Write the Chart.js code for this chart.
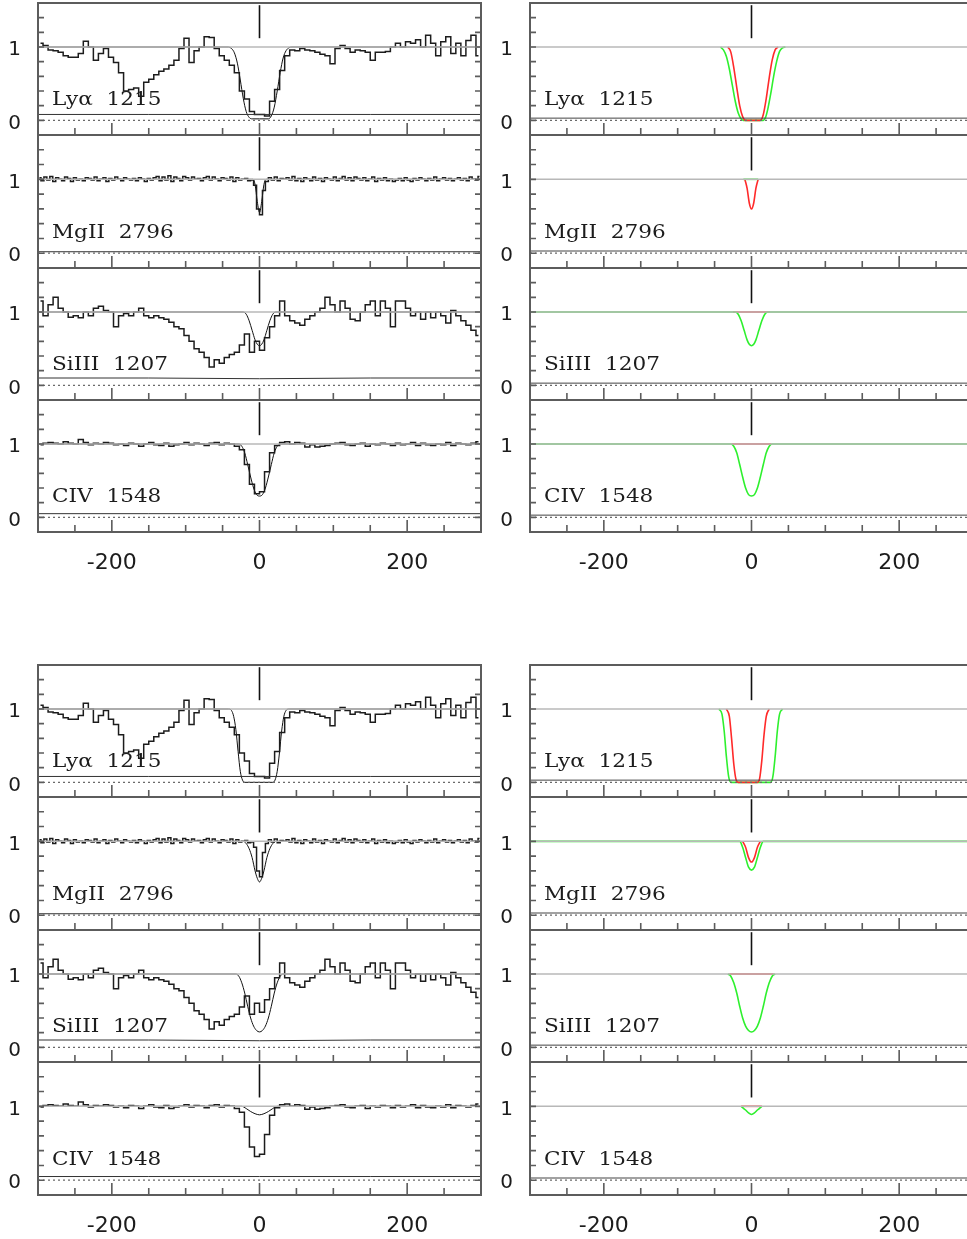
<!DOCTYPE html>
<html>
<head>
<meta charset="utf-8">
<script src="https://cdn.jsdelivr.net/npm/chart.js@4.4.1/dist/chart.umd.min.js"></script>
<style>
  html, body { margin: 0; padding: 0; background: #fff; width: 967px; height: 1239px; overflow: hidden; }
  canvas { position: absolute; }
</style>
</head>
<body>
<script>
// ---------------- data ----------------
// velocity bin centres (km/s) of the coarse-pixel spectra (Lyα, SiIII, CIV)
const velCoarse = Array.from({length: 88}, (_, i) => -300 + (i + 0.5) * 600 / 88);
// velocity bin centres (km/s) of the MgII spectrum
const velFine = Array.from({length: 150}, (_, i) => -298 + 4 * i);

const ionLabels = ['Lyα  1215', 'MgII  2796', 'SiIII  1207', 'CIV  1548'];
const xTickLabels = [-200, 0, 200];
const yTickLabels = [0, 1];
const xMinorTicks = [-250, -200, -150, -100, -50, 0, 50, 100, 150, 200, 250];
const yMinorTicks = [0, 0.2, 0.4, 0.6, 0.8, 1.0, 1.2, 1.4];
const markerSpan = [1.12, 1.57];

// normalised flux
const lyaFlux = [1.05,1.02,0.96,0.95,0.93,0.88,0.86,0.86,0.91,1.08,
  1.00,0.82,0.91,0.98,0.86,0.79,0.65,0.40,0.42,0.44,
  0.33,0.52,0.56,0.62,0.67,0.70,0.75,0.82,0.98,1.12,
  0.79,0.95,1.00,1.14,1.13,0.98,0.88,0.82,0.75,0.65,
  0.40,0.29,0.12,0.08,0.08,0.06,0.26,0.42,0.68,0.88,
  0.96,0.95,0.98,0.96,0.95,0.93,0.90,0.88,0.77,0.98,
  1.02,0.98,0.93,0.96,0.95,0.93,0.82,0.93,0.93,0.94,
  1.00,1.05,1.00,1.07,1.05,1.10,1.00,1.16,1.05,0.88,
  1.07,1.14,0.91,1.05,0.88,1.09,1.16,0.88];
const mgFlux = [1.02,0.98,1.03,0.99,1.04,0.97,1.02,1.00,0.98,1.03,
  1.01,0.97,1.02,0.99,1.00,0.98,1.02,1.01,0.99,1.03,
  0.98,1.00,1.02,0.97,1.01,0.99,1.03,1.00,0.98,1.02,
  1.00,0.99,1.01,0.98,1.02,1.00,0.97,1.01,0.99,1.02,
  1.04,0.98,1.03,0.99,1.05,0.97,1.03,1.01,0.98,1.04,
  1.02,0.99,1.03,1.00,1.01,0.98,1.02,1.04,0.99,1.03,
  1.00,0.98,1.02,1.01,0.99,1.03,0.97,1.02,0.99,1.00,
  1.01,0.98,0.99,0.92,0.60,0.52,0.85,0.97,1.02,0.99,
  1.03,0.98,1.01,1.00,1.02,0.99,1.04,0.98,1.01,0.97,
  1.02,1.00,0.98,1.03,0.99,1.01,0.97,1.02,1.00,0.99,
  1.03,0.98,1.01,1.04,0.99,1.02,0.98,1.03,1.01,0.99,
  1.02,0.98,1.00,1.03,0.97,1.01,0.99,1.02,0.98,1.00,
  0.97,0.99,1.01,0.98,1.02,0.99,0.97,1.01,0.99,1.02,
  1.00,0.98,1.01,0.99,1.03,0.98,1.00,1.02,0.99,1.01,
  0.98,1.00,1.02,0.99,1.01,0.98,1.03,1.00,0.99,1.04];
const siFlux = [1.15,0.95,1.10,1.20,1.05,1.00,0.93,0.95,0.92,1.00,
  0.95,1.05,1.08,1.02,1.00,0.80,0.95,0.98,0.95,1.00,
  1.05,0.95,0.92,0.95,0.92,0.90,0.86,0.80,0.77,0.68,
  0.60,0.50,0.45,0.38,0.25,0.35,0.30,0.38,0.42,0.45,
  0.55,0.70,0.45,0.60,0.48,0.65,0.80,0.95,1.15,0.95,
  0.88,0.85,0.82,0.90,0.95,1.00,1.05,1.20,1.10,1.00,
  1.15,1.05,0.90,0.88,1.00,1.10,1.15,0.95,1.15,1.05,
  0.80,1.15,1.15,1.05,0.95,1.00,0.90,1.00,0.92,1.00,
  0.95,0.85,1.02,0.95,0.88,0.82,0.75,0.68];
const civFlux = [0.99,1.01,1.02,1.01,1.00,1.03,1.01,1.00,1.06,1.02,
  0.99,1.01,1.00,1.02,1.01,0.99,1.00,0.98,1.01,1.00,
  0.97,1.00,1.02,0.99,0.98,1.01,0.97,0.99,1.00,1.02,
  0.99,1.01,1.00,0.98,1.01,1.02,0.99,1.01,1.00,0.97,
  0.92,0.72,0.45,0.32,0.35,0.62,0.88,0.98,1.02,1.03,
  1.00,1.02,1.01,0.96,0.99,0.96,0.97,0.98,1.00,1.01,
  1.02,0.99,0.98,1.00,1.01,0.97,1.00,0.99,1.01,1.00,
  0.98,1.01,0.99,1.00,1.02,0.98,1.01,0.99,0.98,1.00,
  0.99,1.02,0.98,1.01,1.00,0.99,1.01,1.03];

// 1σ error level, sampled at errVel
const errVel = [-300, -150, 0, 150, 300];
const lyaErr = [0.08, 0.08, 0.08, 0.08, 0.08];
const mgErr = [0.02, 0.02, 0.02, 0.02, 0.02];
const siErr = [0.10, 0.10, 0.09, 0.10, 0.10];
const civErr = [0.05, 0.05, 0.05, 0.05, 0.05];

// fitted profiles [velocity, flux] — model A (upper set) and model B (lower set)
const lyaFitA = [[-300,1],[-42,1],[-38,0.98],[-34,0.92],[-30,0.78],[-26,0.55],[-22,0.3],[-18,0.12],[-14,0.04],[-10,0.02],[0,0.02],[12,0.02],[16,0.06],[20,0.18],[24,0.4],[28,0.65],[32,0.85],[36,0.95],[40,0.99],[44,1],[300,1]];
const mgFitA = [[-300,1],[-9,1],[-6,0.93],[-3,0.7],[0,0.55],[3,0.7],[6,0.93],[9,1],[300,1]];
const siFitA = [[-300,1],[-22,1],[-18,0.97],[-14,0.88],[-10,0.75],[-6,0.62],[-3,0.56],[0,0.54],[3,0.56],[6,0.62],[10,0.75],[14,0.88],[18,0.97],[22,1],[300,1]];
const civFitA = [[-300,1],[-28,1],[-24,0.97],[-20,0.88],[-16,0.72],[-12,0.55],[-8,0.4],[-4,0.31],[0,0.29],[4,0.31],[8,0.4],[12,0.55],[16,0.72],[20,0.88],[24,0.97],[28,1],[300,1]];

const lyaFitB = [[-300,1],[-42,1],[-38,0.98],[-35,0.9],[-32,0.72],[-29,0.42],[-26,0.15],[-23,0.03],[-20,0],[18,0],[21,0.03],[24,0.15],[27,0.4],[30,0.7],[33,0.9],[36,0.98],[40,1],[300,1]];
const mgFitB = [[-300,1],[-22,1],[-18,0.97],[-14,0.9],[-10,0.78],[-6,0.6],[-3,0.5],[0,0.45],[3,0.5],[6,0.6],[10,0.78],[14,0.9],[18,0.97],[22,1],[300,1]];
const siFitB = [[-300,1],[-32,1],[-28,0.97],[-24,0.88],[-20,0.74],[-16,0.56],[-12,0.4],[-8,0.29],[-4,0.23],[0,0.21],[4,0.23],[8,0.29],[12,0.4],[16,0.56],[20,0.74],[24,0.88],[28,0.97],[32,1],[300,1]];
const civFitB = [[-300,1],[-24,1],[-18,0.97],[-12,0.93],[-6,0.9],[0,0.885],[6,0.9],[12,0.93],[18,0.97],[24,1],[300,1]];

// individual components (red = narrow, green = broad)
const lyaRedA = [[-32,1],[-28,0.93],[-24,0.72],[-20,0.45],[-16,0.2],[-12,0.05],[-8,0],[12,0],[16,0.08],[20,0.3],[24,0.58],[28,0.82],[32,0.96],[36,1]];
const lyaGreenA = [[-42,1],[-38,0.96],[-34,0.87],[-30,0.7],[-26,0.48],[-22,0.26],[-18,0.1],[-14,0.02],[-11,0],[16,0],[19,0.04],[22,0.15],[26,0.36],[30,0.6],[34,0.8],[38,0.94],[42,0.99],[46,1]];
const mgRedA = [[-9,1],[-6,0.88],[-3,0.68],[0,0.6],[3,0.68],[6,0.88],[9,1]];
const mgGreenA = [[-11,1],[9,1]];
const siRedA = [[-25,1],[25,1]];
const siGreenA = siFitA;
const civRedA = [[-27,1],[27,1]];
const civGreenA = civFitA;

const lyaRedB = [[-34,1],[-30,0.9],[-27,0.6],[-24,0.25],[-21,0.04],[-18,0],[8,0],[11,0.05],[14,0.3],[17,0.65],[20,0.9],[24,1]];
const lyaGreenB = [[-44,1],[-40,0.93],[-37,0.7],[-34,0.35],[-31,0.08],[-28,0],[26,0],[29,0.08],[32,0.35],[35,0.7],[38,0.93],[42,1]];
const mgRedB = [[-12,1],[-8,0.92],[-4,0.78],[0,0.72],[4,0.78],[8,0.92],[12,1]];
const mgGreenB = [[-300,1],[-16,1],[-12,0.92],[-8,0.78],[-4,0.65],[0,0.61],[4,0.65],[8,0.78],[12,0.92],[16,1],[300,1]];
const siRedB = [[-30,1],[30,1]];
const siGreenB = [[-32,1],[-28,0.97],[-24,0.88],[-20,0.74],[-16,0.56],[-12,0.4],[-8,0.29],[-4,0.23],[0,0.21],[4,0.23],[8,0.29],[12,0.4],[16,0.56],[20,0.74],[24,0.88],[28,0.97],[32,1]];
const civRedB = [[-14,1],[14,1]];
const civGreenB = [[-14,1],[-8,0.95],[-4,0.91],[0,0.89],[4,0.91],[8,0.95],[14,1]];

// ---------------- layout ----------------
const PANEL_TOPS = [[3, 135, 268, 400, 532], [665, 797, 930, 1062, 1195]];
const COL_LEFTS = [38, 530];
const FRAME_W = 443;
const AXIS_W = 38;
const MARGIN = 4;
const XLAB_H = 45;
const LABEL_Y = 0.21;

const INK = '#1c1c1c';
const FRAME = '#5c5c5c';
const RED = '#ff2a2a';
const GREEN = '#2ef02e';

const pts = (pairs) => pairs.map(([x, y]) => ({x, y}));
const zip = (xs, ys) => xs.map((x, i) => ({x, y: ys[i]}));
const hline = (y) => [{x: -300, y}, {x: 300, y}];

// frame, inward ticks and ion label
const panelDecor = {
  id: 'panelDecor',
  afterDatasetsDraw(chart, args, opts) {
    const {ctx, chartArea: {left}} = chart;
    const y = chart.scales.y;
    ctx.save();
    ctx.font = '18px "DejaVu Serif", "Liberation Serif", serif';
    ctx.fillStyle = INK;
    ctx.textBaseline = 'alphabetic';
    ctx.translate(left + 14, y.getPixelForValue(LABEL_Y));
    ctx.scale(1.2, 1);
    ctx.fillText(opts.label, 0, 0);
    ctx.restore();
  },
  afterDraw(chart) {
    const {ctx, chartArea: {left, right, top, bottom}} = chart;
    const x = chart.scales.x, y = chart.scales.y;
    ctx.save();
    ctx.strokeStyle = FRAME;
    ctx.lineWidth = 1.6;
    ctx.beginPath();
    xMinorTicks.forEach(v => {
      const px = x.getPixelForValue(v);
      const len = xTickLabels.includes(v) ? 12 : 7;
      ctx.moveTo(px, bottom);
      ctx.lineTo(px, bottom - len);
    });
    yMinorTicks.forEach(v => {
      const py = y.getPixelForValue(v);
      ctx.moveTo(left, py); ctx.lineTo(left + 6, py);
      ctx.moveTo(right, py); ctx.lineTo(right - 6, py);
    });
    ctx.stroke();
    ctx.lineWidth = 2;
    ctx.strokeRect(left, top, right - left, bottom - top);
    ctx.restore();
  }
};

function lineSet(data, color, width, extra) {
  return Object.assign({data, borderColor: color, borderWidth: width, pointRadius: 0, fill: false, tension: 0}, extra || {});
}

function makePanel(g, c, r, datasets) {
  const tops = PANEL_TOPS[g];
  const frameTop = tops[r], frameBottom = tops[r + 1];
  const showX = r === 3;
  const w = AXIS_W + FRAME_W + MARGIN;
  const h = MARGIN + (frameBottom - frameTop) + (showX ? XLAB_H : MARGIN);
  const cv = document.createElement('canvas');
  cv.width = w; cv.height = h;
  cv.style.left = (COL_LEFTS[c] - AXIS_W) + 'px';
  cv.style.top = (frameTop - MARGIN) + 'px';
  cv.style.width = w + 'px';
  cv.style.height = h + 'px';
  document.body.appendChild(cv);

  return new Chart(cv, {
    type: 'line',
    data: {datasets},
    plugins: [panelDecor],
    options: {
      responsive: false,
      animation: false,
      events: [],
      devicePixelRatio: 1,
      layout: {padding: {top: MARGIN, right: MARGIN, bottom: showX ? 0 : MARGIN, left: 0}},
      plugins: {legend: {display: false}, tooltip: {enabled: false}, panelDecor: {label: ionLabels[r]}},
      scales: {
        x: {
          type: 'linear', min: -300, max: 300,
          grid: {display: false, drawTicks: false},
          border: {display: false},
          afterBuildTicks: (s) => { s.ticks = xTickLabels.map(v => ({value: v})); },
          afterFit: (s) => { s.height = showX ? XLAB_H : 0; s.paddingLeft = 0; s.paddingRight = 0; },
          ticks: {
            display: showX, autoSkip: false, maxRotation: 0, padding: 18,
            color: INK, font: {family: '"DejaVu Sans", sans-serif', size: 22},
            callback: (v) => String(v)
          }
        },
        y: {
          type: 'linear', min: -0.2, max: 1.6,
          grid: {display: false, drawTicks: false},
          border: {display: false},
          afterBuildTicks: (s) => { s.ticks = yTickLabels.map(v => ({value: v})); },
          afterFit: (s) => { s.width = AXIS_W; s.paddingTop = 0; s.paddingBottom = 0; },
          ticks: {
            padding: 17, labelOffset: 3,
            color: INK, font: {family: '"DejaVu Sans", sans-serif', size: 20},
            callback: (v) => String(v)
          }
        }
      }
    }
  });
}

// ---------------- panels ----------------
const fluxSets = [zip(velCoarse, lyaFlux), zip(velFine, mgFlux), zip(velCoarse, siFlux), zip(velCoarse, civFlux)];
const errSets = [lyaErr, mgErr, siErr, civErr].map(e => zip(errVel, e));
const fits = [[lyaFitA, mgFitA, siFitA, civFitA], [lyaFitB, mgFitB, siFitB, civFitB]];
const reds = [[lyaRedA, mgRedA, siRedA, civRedA], [lyaRedB, mgRedB, siRedB, civRedB]];
const greens = [[lyaGreenA, mgGreenA, siGreenA, civGreenA], [lyaGreenB, mgGreenB, siGreenB, civGreenB]];

const common = () => [
  lineSet(hline(1), '#b8b8b8', 1.5),
  lineSet(hline(0), '#6a6a6a', 1.2, {borderDash: [2, 3]})
];
const marker = () => lineSet([{x: 0, y: markerSpan[0]}, {x: 0, y: markerSpan[1]}], '#111', 1.6);

for (let g = 0; g < 2; g++) {
  for (let r = 0; r < 4; r++) {
    // observed spectrum with fitted profile
    makePanel(g, 0, r, [
      ...common(),
      lineSet(errSets[r], '#333', 1),
      lineSet(fluxSets[r], INK, 1.5, {stepped: 'middle'}),
      lineSet(pts(fits[g][r]), '#111', 1, {cubicInterpolationMode: 'monotone'}),
      marker()
    ]);
    // individual components
    const greenSet = lineSet(pts(greens[g][r]), GREEN, 1.6, {cubicInterpolationMode: 'monotone'});
    const redSet = lineSet(pts(reds[g][r]), RED, 1.6, {cubicInterpolationMode: 'monotone'});
    makePanel(g, 1, r, [
      ...common(),
      lineSet(hline(0.03), '#444', 1),
      ...(r === 0 ? [redSet, greenSet] : [greenSet, redSet]),
      marker()
    ]);
  }
}
</script>
</body>
</html>
